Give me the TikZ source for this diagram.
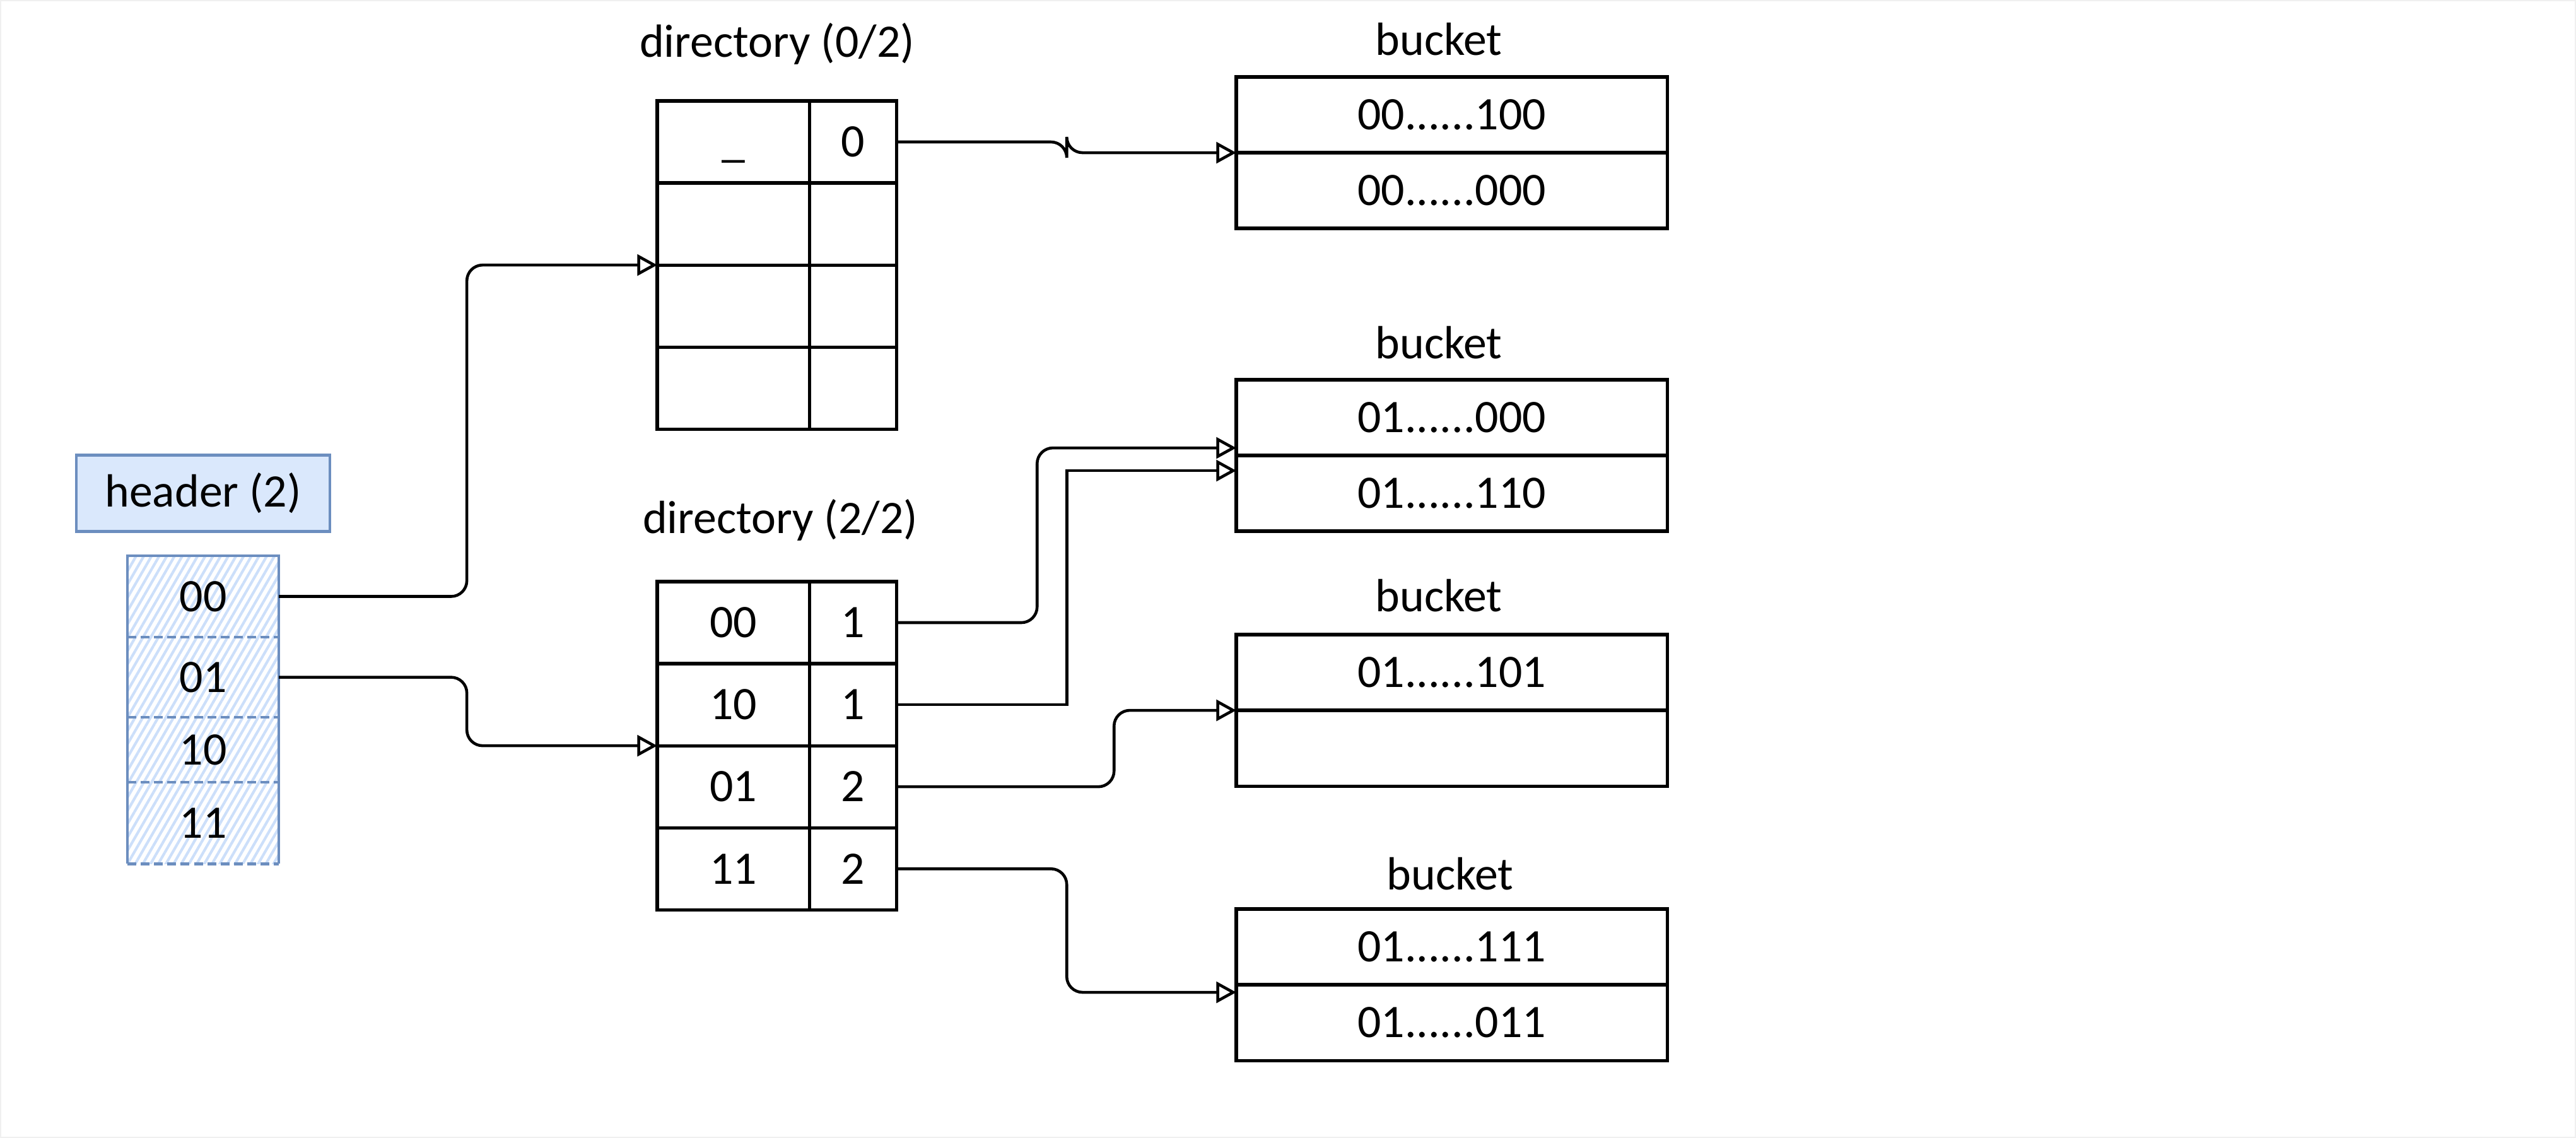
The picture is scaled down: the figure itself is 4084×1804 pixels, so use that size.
\documentclass[tikz,border=0pt]{standalone}
\usepackage{fontspec}
\setmainfont{Carlito}
\usetikzlibrary{arrows.meta, positioning, calc, patterns.meta}

\definecolor{hdrfill}{RGB}{218,232,252}
\definecolor{hdrline}{RGB}{108,142,191}
\definecolor{hatchblue}{RGB}{204,223,250}
\definecolor{framegray}{RGB}{240,240,240}

\tikzset{
  every node/.style={font=\fontsize{21}{25}\selectfont},
  cell/.style={draw, line width=1.5pt, inner sep=0pt, outer sep=0pt, text height=13.5pt, text depth=0pt},
  dleft/.style={cell, minimum width=2.41cm, minimum height=1.3cm},
  dright/.style={cell, minimum width=1.38cm, minimum height=1.3cm},
  bcell/.style={cell, minimum width=6.83cm, minimum height=1.2cm},
  hcell/.style={inner sep=0pt, outer sep=0pt, minimum width=2.4cm, text height=13.5pt, text depth=0pt,
    pattern={Lines[angle=60, distance=3pt, line width=1.2pt]}, pattern color=hatchblue},
  hline/.style={draw=hdrline, line width=1.3pt},
  link/.style={line width=1.3pt, rounded corners=0.25cm, -{Triangle[open, length=9pt, width=9.5pt, line width=1.3pt]}}
}

\begin{document}
\begin{tikzpicture}[x=0.01cm, y=-0.01cm]
      \useasboundingbox (0,0) rectangle (4084,1804);
      \draw[framegray, line width=0.02cm] (1,1) rectangle (4083,1803);

      \node[hline, fill=hdrfill, minimum width=4.02cm, minimum height=1.21cm, inner sep=0pt] (hdr) at (322,782) {header (2)};

      \node[hcell, minimum height=1.29cm, anchor=north west] (h00) at (202,881) {00};
      \node[hcell, minimum height=1.27cm, below=0pt of h00] (h01) {01};
      \node[hcell, minimum height=1.03cm, below=0pt of h01] (h10) {10};
      \node[hcell, minimum height=1.29cm, below=0pt of h10] (h11) {11};
      \draw[hline] (h11.south west) -- (h00.north west) -- (h00.north east) -- (h11.south east);
      \draw[hline, dash pattern=on 4pt off 2pt] (h00.south west) -- (h00.south east);
      \draw[hline, dash pattern=on 4pt off 2pt] (h01.south west) -- (h01.south east);
      \draw[hline, dash pattern=on 4pt off 2pt] (h10.south west) -- (h10.south east);
      \draw[hline, dash pattern=on 4pt off 2pt] (h11.south west) -- (h11.south east);

      \node[anchor=base] (t0) at (1232,91) {directory (0/2)};
      \node[dleft, anchor=north west] (d0l0) at (1042,160) {\_};
      \node[dright, right=0pt of d0l0] (d0r0) {0};
      \node[dleft, below=0pt of d0l0] (d0l1) {};
      \node[dright, right=0pt of d0l1] (d0r1) {};
      \node[dleft, below=0pt of d0l1] (d0l2) {};
      \node[dright, right=0pt of d0l2] (d0r2) {};
      \node[dleft, below=0pt of d0l2] (d0l3) {};
      \node[dright, right=0pt of d0l3] (d0r3) {};

      \node[anchor=base] (t2) at (1237,846) {directory (2/2)};
      \node[dleft, anchor=north west] (d2l0) at (1042,922) {00};
      \node[dright, right=0pt of d2l0] (d2r0) {1};
      \node[dleft, below=0pt of d2l0] (d2l1) {10};
      \node[dright, right=0pt of d2l1] (d2r1) {1};
      \node[dleft, below=0pt of d2l1] (d2l2) {01};
      \node[dright, right=0pt of d2l2] (d2r2) {2};
      \node[dleft, below=0pt of d2l2] (d2l3) {11};
      \node[dright, right=0pt of d2l3] (d2r3) {2};

      \node[anchor=base] (tb0) at (2281,88) {bucket};
      \node[bcell, anchor=north west] (b0a) at (1960,122) {00......100};
      \node[bcell, below=0pt of b0a] (b0b) {00......000};

      \node[anchor=base] (tb1) at (2281,569) {bucket};
      \node[bcell, anchor=north west] (b1a) at (1960,602) {01......000};
      \node[bcell, below=0pt of b1a] (b1b) {01......110};

      \node[anchor=base] (tb2) at (2281,970) {bucket};
      \node[bcell, anchor=north west] (b2a) at (1960,1006) {01......101};
      \node[bcell, below=0pt of b2a] (b2b) {};

      \node[anchor=base] (tb3) at (2299,1410) {bucket};
      \node[bcell, anchor=north west] (b3a) at (1960,1441) {01......111};
      \node[bcell, below=0pt of b3a] (b3b) {01......011};

      \draw[link] (h00.east) -- ++(298,0) |- (d0l1.south west);
      \draw[link] (h01.east) -- ++(298,0) |- (d2l1.south west);
      \draw[link] (d0r0.east) -- ++(270,0) |- (b0a.south west);
      \draw[link] (d2r0.east) -- ++(223,0) |- ($(b1a.south west)+(0,-12)$);
      \draw[link, sharp corners] (d2r1.east) -- ++(270,0) |- ($(b1a.south west)+(0,24)$);
      \draw[link] (d2r2.east) -- ++(345,0) |- (b2a.south west);
      \draw[link] (d2r3.east) -- ++(270,0) |- ($(b3a.south west)+(0,12)$);

\end{tikzpicture}
\end{document}
